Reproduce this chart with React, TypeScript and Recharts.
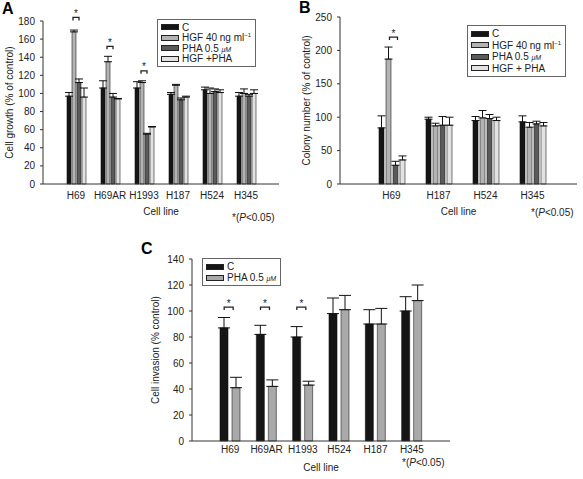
import React from "react";
import { BarChart, Bar, XAxis, YAxis, ErrorBar, Legend, ReferenceDot } from "recharts";

// panel A - cell growth
const linesA = ["H69", "H69AR", "H1993", "H187", "H524", "H345"];
const growthC = [97, 106, 106, 99, 104, 97];
const growthCErr = [4, 8, 7, 2, 3, 4];
const growthHgf = [168, 135, 112, 109, 100, 100];
const growthHgfErr = [2, 6, 2, 1, 6, 5];
const growthPha = [112, 96, 55, 93, 102, 97];
const growthPhaErr = [4, 4, 1, 2, 3, 2];
const growthBoth = [96, 94, 63, 96, 101, 100];
const growthBothErr = [10, 0.5, 0.5, 1, 3, 4];
const sigA = [
  { line: "H69", y: 184 },
  { line: "H69AR", y: 152 },
  { line: "H1993", y: 125 },
];

// panel B - colony number
const linesB = ["H69", "H187", "H524", "H345"];
const colonyC = [84, 97, 95, 93];
const colonyCErr = [18, 3, 6, 9];
const colonyHgf = [187, 87, 99, 85];
const colonyHgfErr = [18, 4, 11, 7];
const colonyPha = [28, 88, 98, 90];
const colonyPhaErr = [6, 13, 6, 4];
const colonyBoth = [36, 88, 95, 87];
const colonyBothErr = [6, 12, 5, 5];
const sigB = [{ line: "H69", y: 220 }];

// panel C - invasion
const linesC = ["H69", "H69AR", "H1993", "H524", "H187", "H345"];
const invC = [87, 82, 80, 98, 90, 100];
const invCErr = [8, 7, 8, 12, 11, 11];
const invPha = [41, 42, 43, 101, 90, 108];
const invPhaErr = [8, 5, 3, 11, 12, 12];
const sigC = [
  { line: "H69", y: 103 },
  { line: "H69AR", y: 103 },
  { line: "H1993", y: 103 },
];

const ticksA = [0, 20, 40, 60, 80, 100, 120, 140, 160, 180];
const ticksB = [0, 50, 100, 150, 200, 250];
const ticksC = [0, 20, 40, 60, 80, 100, 120, 140];

const COL: Record<string, string> = { c: "#151515", hgf: "#b3b3b3", pha: "#5a5a5a", both: "#e2e2e2" };
const PHA_C = "#a9a9a9";
const FONT = "'Liberation Sans', Arial, sans-serif";

const dataA = linesA.map((name, i) => ({
  name,
  c: growthC[i], cErr: [0, growthCErr[i]],
  hgf: growthHgf[i], hgfErr: [0, growthHgfErr[i]],
  pha: growthPha[i], phaErr: [0, growthPhaErr[i]],
  both: growthBoth[i], bothErr: [0, growthBothErr[i]],
}));
const dataB = linesB.map((name, i) => ({
  name,
  c: colonyC[i], cErr: [0, colonyCErr[i]],
  hgf: colonyHgf[i], hgfErr: [0, colonyHgfErr[i]],
  pha: colonyPha[i], phaErr: [0, colonyPhaErr[i]],
  both: colonyBoth[i], bothErr: [0, colonyBothErr[i]],
}));
const dataC = linesC.map((name, i) => ({
  name,
  c: invC[i], cErr: [0, invCErr[i]],
  pha: invPha[i], phaErr: [0, invPhaErr[i]],
}));

const Micro = () => <span style={{ fontSize: 7, fontStyle: "italic" }}>μM</span>;
const legendA = [
  { key: "c", color: COL.c, label: "C" },
  { key: "hgf", color: COL.hgf, label: <>HGF 40 ng ml<sup style={{ fontSize: 6 }}>−1</sup></> },
  { key: "pha", color: COL.pha, label: <>PHA 0.5 <Micro /></> },
  { key: "both", color: COL.both, label: "HGF +PHA" },
];
const legendB = legendA.map((it) => (it.key === "both" ? { ...it, label: "HGF + PHA" } : it));
const legendC = [
  { key: "c", color: COL.c, label: "C" },
  { key: "pha", color: PHA_C, label: <>PHA 0.5 <Micro /></> },
];

const LegendBox = ({ items, rowH }: { items: any[]; rowH: number }) => (
  <div style={{ border: "1px solid #666", padding: "2px 4px 2px 3px", background: "#fff", fontFamily: FONT, fontSize: 10, color: "#222" }}>
    {items.map((p) => (
      <div key={p.key} style={{ display: "flex", alignItems: "center", height: rowH, whiteSpace: "nowrap" }}>
        <span style={{ display: "inline-block", width: 16, height: 4, background: p.color, border: "1px solid #222", marginRight: 3 }} />
        <span>{p.label}</span>
      </div>
    ))}
  </div>
);

const Bracket = (half: number, dx: number) => (props: any) => {
  const { cx, cy } = props;
  if (cx == null || cy == null) return <g />;
  const x = cx + dx;
  return (
    <g>
      <path d={`M${x - half},${cy + 3} V${cy} H${x + half} V${cy + 3}`} fill="none" stroke="#222" strokeWidth={1.3} />
      <text x={x} y={cy - 0.5} textAnchor="middle" fontSize={10} fontFamily={FONT} fill="#222">*</text>
    </g>
  );
};

const tickStyle = { fontSize: 10, fill: "#222", fontFamily: FONT };
const axisLine = { stroke: "#333" };
const labelStyle = { fontSize: 10, fill: "#222", fontFamily: FONT };

const Note = ({ left, top }: { left: number; top: number }) => (
  <div style={{ position: "absolute", left, top, fontSize: 10, fontFamily: FONT, color: "#222" }}>
    *(<i>P</i>&lt;0.05)
  </div>
);

const Letter = ({ left, top, t }: { left: number; top: number; t: string }) => (
  <div style={{ position: "absolute", left, top, fontSize: 16, fontWeight: 700, fontFamily: FONT, lineHeight: "16px" }}>{t}</div>
);

const legendWrap = (left: number, top: number) => ({ position: "absolute" as const, left, top, width: "auto", height: "auto" });

export default function App() {
  return (
    <div style={{ position: "absolute", left: 0, top: 0, width: 583, height: 479, background: "#fff", fontFamily: FONT }}>
      <Letter left={2} top={1} t="A" />
      <Letter left={299} top={0} t="B" />
      <Letter left={141} top={241} t="C" />

      <div style={{ position: "absolute", left: 0, top: 0 }}>
        <BarChart width={290} height={230} data={dataA} margin={{ top: 21, right: 11, bottom: 13, left: 0 }} barSize={4} barGap={1}>
          <XAxis dataKey="name" interval={0} tickLine={false} axisLine={axisLine} tick={tickStyle} height={33} padding={{ left: 16, right: 16 }}
            label={{ value: "Cell line", position: "insideBottom", offset: 2, style: labelStyle }} />
          <YAxis width={43} domain={[0, 180]} ticks={ticksA} tickSize={3} tickMargin={5} axisLine={axisLine} tickLine={axisLine} tick={tickStyle}
            label={{ value: "Cell growth (% of control)", angle: -90, position: "insideLeft", offset: 9, style: { ...labelStyle, textAnchor: "middle" } }} />
          <Legend layout="vertical" align="center" verticalAlign="middle" wrapperStyle={legendWrap(157, 19)}
            content={() => <LegendBox items={legendA} rowH={10.5} />} />
          <Bar dataKey="c" fill={COL.c} stroke="#111" strokeWidth={0.6} isAnimationActive={false}>
            <ErrorBar dataKey="cErr" width={4} stroke="#111" strokeWidth={1} direction="y" />
          </Bar>
          <Bar dataKey="hgf" fill={COL.hgf} stroke="#222" strokeWidth={0.6} isAnimationActive={false}>
            <ErrorBar dataKey="hgfErr" width={4} stroke="#111" strokeWidth={1} direction="y" />
          </Bar>
          <Bar dataKey="pha" fill={COL.pha} stroke="#222" strokeWidth={0.6} isAnimationActive={false}>
            <ErrorBar dataKey="phaErr" width={4} stroke="#111" strokeWidth={1} direction="y" />
          </Bar>
          <Bar dataKey="both" fill={COL.both} stroke="#222" strokeWidth={0.6} isAnimationActive={false}>
            <ErrorBar dataKey="bothErr" width={4} stroke="#111" strokeWidth={1} direction="y" />
          </Bar>
          {sigA.map((s) => (
            <ReferenceDot key={s.line} x={s.line} y={s.y} r={0} ifOverflow="visible" shape={Bracket(3, 0)} />
          ))}
        </BarChart>
      </div>
      <Note left={232} top={212} />

      <div style={{ position: "absolute", left: 290, top: 0 }}>
        <BarChart width={293} height={230} data={dataB} margin={{ top: 17, right: 6, bottom: 13, left: 0 }} barSize={5} barGap={2}>
          <XAxis dataKey="name" interval={0} tickLine={false} axisLine={axisLine} tick={tickStyle} height={33} padding={{ left: 28, right: 21 }}
            label={{ value: "Cell line", position: "insideBottom", offset: 2, style: labelStyle }} />
          <YAxis width={50} domain={[0, 250]} ticks={ticksB} tickSize={3} tickMargin={5} axisLine={axisLine} tickLine={axisLine} tick={tickStyle}
            label={{ value: "Colony number (% of control)", angle: -90, position: "insideLeft", offset: 16, style: { ...labelStyle, textAnchor: "middle" } }} />
          <Legend layout="vertical" align="center" verticalAlign="middle" wrapperStyle={legendWrap(177, 25)}
            content={() => <LegendBox items={legendB} rowH={11.5} />} />
          <Bar dataKey="c" fill={COL.c} stroke="#111" strokeWidth={0.6} isAnimationActive={false}>
            <ErrorBar dataKey="cErr" width={4} stroke="#111" strokeWidth={1} direction="y" />
          </Bar>
          <Bar dataKey="hgf" fill={COL.hgf} stroke="#222" strokeWidth={0.6} isAnimationActive={false}>
            <ErrorBar dataKey="hgfErr" width={4} stroke="#111" strokeWidth={1} direction="y" />
          </Bar>
          <Bar dataKey="pha" fill={COL.pha} stroke="#222" strokeWidth={0.6} isAnimationActive={false}>
            <ErrorBar dataKey="phaErr" width={4} stroke="#111" strokeWidth={1} direction="y" />
          </Bar>
          <Bar dataKey="both" fill={COL.both} stroke="#222" strokeWidth={0.6} isAnimationActive={false}>
            <ErrorBar dataKey="bothErr" width={4} stroke="#111" strokeWidth={1} direction="y" />
          </Bar>
          {sigB.map((s) => (
            <ReferenceDot key={s.line} x={s.line} y={s.y} r={0} ifOverflow="visible" shape={Bracket(4, 2)} />
          ))}
        </BarChart>
      </div>
      <Note left={531} top={207} />

      <div style={{ position: "absolute", left: 100, top: 230 }}>
        <BarChart width={380} height={249} data={dataC} margin={{ top: 29, right: 30, bottom: 5, left: 0 }} barSize={8} barGap={4}>
          <XAxis dataKey="name" interval={0} tickLine={false} axisLine={axisLine} tick={tickStyle} height={33} padding={{ left: 20, right: 20 }}
            tickSize={4} tickMargin={1}
            label={{ value: "Cell line", position: "insideBottom", offset: 3, style: labelStyle }} />
          <YAxis width={92} domain={[0, 140]} ticks={ticksC} tickSize={3} tickMargin={5} axisLine={axisLine} tickLine={axisLine} tick={tickStyle}
            label={{ value: "Cell invasion (% control)", angle: -90, position: "insideLeft", offset: 55, style: { ...labelStyle, textAnchor: "middle" } }} />
          <Legend layout="vertical" align="center" verticalAlign="middle" wrapperStyle={legendWrap(102, 28)}
            content={() => <LegendBox items={legendC} rowH={11} />} />
          <Bar dataKey="c" fill={COL.c} stroke="#111" strokeWidth={0.6} isAnimationActive={false}>
            <ErrorBar dataKey="cErr" width={6} stroke="#111" strokeWidth={1} direction="y" />
          </Bar>
          <Bar dataKey="pha" fill={PHA_C} stroke="#222" strokeWidth={0.6} isAnimationActive={false}>
            <ErrorBar dataKey="phaErr" width={6} stroke="#111" strokeWidth={1} direction="y" />
          </Bar>
          {sigC.map((s) => (
            <ReferenceDot key={s.line} x={s.line} y={s.y} r={0} ifOverflow="visible" shape={Bracket(4.5, -1.5)} />
          ))}
        </BarChart>
      </div>
      <Note left={402} top={457} />
    </div>
  );
}
